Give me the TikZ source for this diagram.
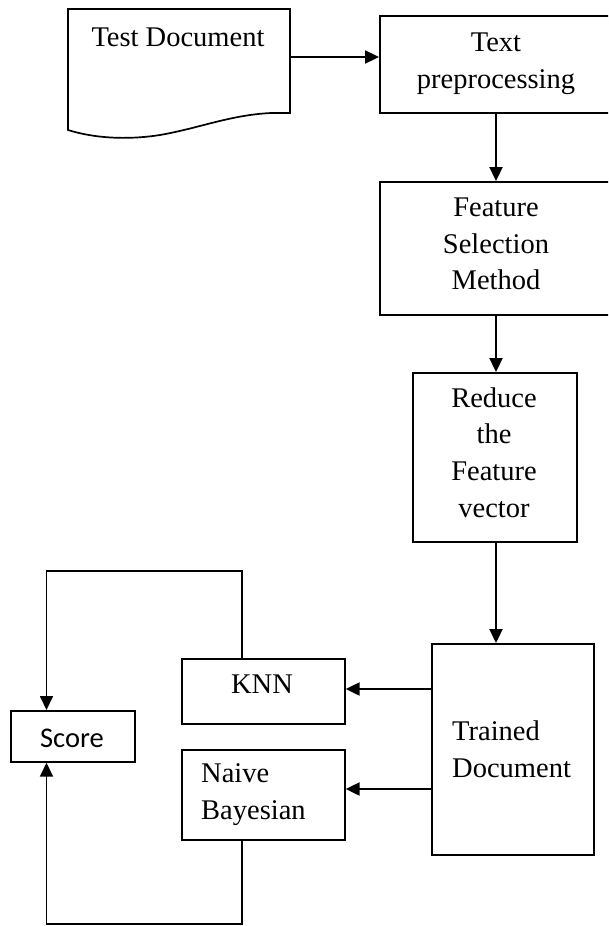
\documentclass[tikz,border=0pt]{standalone}
\usepackage{fontspec}
\setmainfont{Liberation Serif}
\newfontfamily\scorefont{Carlito}
\usetikzlibrary{arrows.meta}
\begin{document}
\begin{tikzpicture}[x=1pt,y=-1pt,
  box/.style={draw,line width=1.7pt,inner sep=0pt,anchor=north west},
  lbl/.style={inner sep=0pt,align=center,font=\fontsize{28.5}{36.7}\selectfont},
  arr/.style={line width=2.3pt,-{Triangle[length=14pt,width=13pt]}},
  loopline/.style={line width=1.7pt,-{Triangle[length=14pt,width=13pt]}}]
\useasboundingbox (0,0) rectangle (608,926);
\clip (0,0) rectangle (608,926);

% document symbol with wavy lower edge
\draw[line width=1.7pt] (271,113) -- (290,113) -- (290,9) -- (68,9) -- (68,130)
  .. controls (100,140) and (135,139) .. (160,135)
  .. controls (200,128) and (230,115) .. (271,113);
\node[lbl,anchor=base] (tdtext) at (178,46) {Test Document};
\coordinate (tdout) at (290,57);

% process boxes
\node[box,minimum width=261pt,minimum height=97pt]  (tp) at (379,15)  {};
\node[box,minimum width=261pt,minimum height=133pt] (fs) at (379,181) {};
\node[box,minimum width=164pt,minimum height=169pt] (rf) at (412,372) {};
\node[box,minimum width=162pt,minimum height=211pt] (tr) at (431,643) {};
\node[box,minimum width=163pt,minimum height=65pt]  (knn) at (181,658) {};
\node[box,minimum width=163pt,minimum height=90pt]  (nb) at (181,749) {};
\node[box,minimum width=124pt,minimum height=51pt]  (sc) at (10,710) {};

% box labels
\node[lbl] (tptext) at (496,64) {Text\\preprocessing};
\node[lbl] (fstext) at (496,244) {Feature\\Selection\\Method};
\node[lbl] (rftext) at (494,452.5) {Reduce\\the\\Feature\\vector};
\node[lbl,anchor=west,align=left] (trtext) at (452,749) {Trained\\Document};
\node[lbl,anchor=base] (knntext) at (262,693) {KNN};
\node[lbl,anchor=west,align=left] (nbtext) at (201,794.5) {Naive\\Bayesian};
\node[lbl,anchor=base,font={\scorefont\fontsize{28.5}{36.7}\selectfont}] (sctext) at (72,747) {Score};

% main flow
\coordinate (col) at (496,0);
\draw[arr] (tdout) -- (tdout -| tp.west);
\draw[arr] (tp.south -| col) -- (fs.north -| col);
\draw[arr] (fs.south -| col) -- (rf.north -| col);
\draw[arr] (rf.south -| col) -- (tr.north -| col);

% classifiers
\coordinate (ky) at (0,689);
\coordinate (ny) at (0,789);
\draw[arr] (tr.west |- ky) -- (knn.east |- ky);
\draw[arr] (tr.west |- ny) -- (nb.east |- ny);

% results to score
\coordinate (k1) at (242,571);
\coordinate (k2) at (46.5,571);
\coordinate (n1) at (242,924);
\coordinate (n2) at (46.5,924);
\draw[loopline] (knn.north -| k1) -- (k1) -- (k2) -- (sc.north -| k2);
\draw[loopline] (nb.south -| n1) -- (n1) -- (n2) -- (sc.south -| n2);
\end{tikzpicture}
\end{document}
